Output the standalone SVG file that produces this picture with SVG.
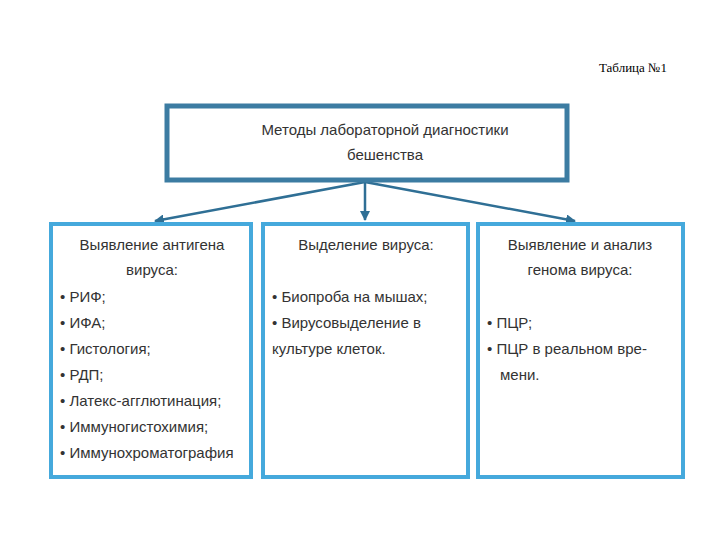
<svg xmlns="http://www.w3.org/2000/svg" width="720" height="540" viewBox="0 0 720 540">
<style>
.t{font-family:"Liberation Sans",Arial,sans-serif;font-size:15px;fill:#333}
.c{text-anchor:middle}
.box{fill:#fff;stroke:#45a9dc;stroke-width:4}
</style>
<defs><marker id="a" viewBox="0 0 10 10" refX="9" refY="5" markerWidth="4" markerHeight="4" orient="auto"><path d="M0,0L10,5L0,10z" fill="#2f6f95"/></marker></defs>
<rect width="720" height="540" fill="#fff"/>
<text x="633" y="72" font-family="Liberation Serif,serif" font-size="13" text-anchor="middle">Таблица №1</text>
<g id="connectors" stroke="#2f6f95" stroke-width="2.5" fill="none" marker-end="url(#a)">
<line x1="365" y1="182" x2="155" y2="221"/>
<line x1="365" y1="182" x2="365" y2="220"/>
<line x1="365" y1="182" x2="575" y2="221"/>
</g>
<g id="top"><rect x="167" y="106" width="400" height="74" fill="#fff" stroke="#3c7ca2" stroke-width="5"/>
<text class="t c" x="385" y="135">Методы лабораторной диагностики</text><text class="t c" x="385" y="160">бешенства</text></g>
<g id="n1"><rect class="box" x="51" y="224" width="200" height="253"/>
<text class="t c" x="152" y="250">Выявление антигена</text><text class="t c" x="152" y="275">вируса:</text>
<text class="t" x="60" y="302">• РИФ;</text><text class="t" x="60" y="328">• ИФА;</text><text class="t" x="60" y="354">• Гистология;</text><text class="t" x="60" y="380">• РДП;</text><text class="t" x="60" y="406">• Латекс-агглютинация;</text><text class="t" x="60" y="432">• Иммуногистохимия;</text><text class="t" x="60" y="458">• Иммунохроматография</text></g>
<g id="n2"><rect class="box" x="263" y="224" width="205" height="253"/>
<text class="t c" x="366" y="250">Выделение вируса:</text>
<text class="t" x="272" y="302">• Биопроба на мышах;</text><text class="t" x="272" y="328">• Вирусовыделение в</text><text class="t" x="272" y="354">культуре клеток.</text></g>
<g id="n3"><rect class="box" x="478" y="224" width="205" height="253"/>
<text class="t c" x="580" y="250">Выявление и анализ</text><text class="t c" x="580" y="275">генома вируса:</text>
<text class="t" x="487" y="328">• ПЦР;</text><text class="t" x="487" y="354">• ПЦР в реальном вре-</text><text class="t" x="500" y="380">мени.</text></g>
</svg>
